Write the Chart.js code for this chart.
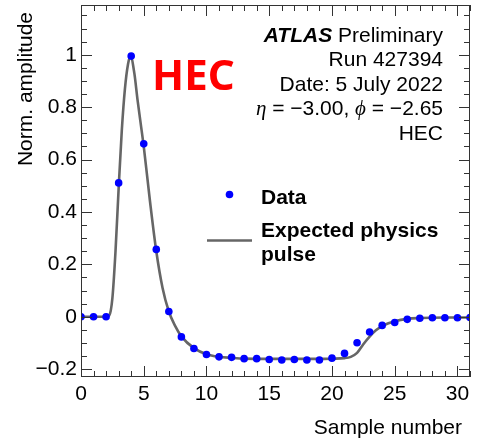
<!DOCTYPE html>
<html lang="en">
<head>
    <meta charset="UTF-8">
    <title>HEC pulse</title>
    <script src="https://cdn.jsdelivr.net/npm/chart.js@4.4.0/dist/chart.umd.min.js"></script>
    <style>
        html, body { margin: 0; padding: 0; background: #fff; }
        #wrap { width: 481px; height: 443px; }
    </style>
</head>
<body>
    <div id="wrap"><canvas id="myChart" width="481" height="443"></canvas></div>

    <script>
        // samples
        const sampleX = [0,1,2,3,4,5,6,7,8,9,10,11,12,13,14,15,16,17,18,19,20,21,22,23,24,25,26,27,28,29,30,31]
        const sampleY = [0,0,0,0.511,0.995,0.66,0.257,0.02,-0.077,-0.121,-0.144,-0.153,-0.155,-0.160,-0.160,-0.163,
                         -0.165,-0.163,-0.165,-0.165,-0.158,-0.140,-0.099,-0.058,-0.033,-0.022,-0.010,-0.006,-0.004,-0.004,-0.004,-0.003]

        // expected physics pulse (gray curve)
        const pulseX = [0,1,2,2.25,2.5,2.75,3,3.25,3.5,3.75,3.95,4.25,4.5,4.75,5,5.5,6,6.5,7,7.5,8,9,10,11,12,13,15,17,19,20,21,21.5,22,22.5,23,23.5,24,24.5,25,26,27,29,31]
        const pulseY = [0,0,0,0.005,0.07,0.25,0.49,0.71,0.87,0.965,0.995,0.93,0.83,0.74,0.65,0.44,0.25,0.11,0.02,-0.035,-0.075,-0.12,-0.143,-0.153,-0.157,-0.160,-0.161,-0.161,-0.161,-0.160,-0.158,-0.153,-0.138,-0.105,-0.076,-0.052,-0.036,-0.025,-0.017,-0.008,-0.005,-0.003,-0.003]

        const xTicks = [0,5,10,15,20,25,30]
        const yTicks = [-0.2,0,0.2,0.4,0.6,0.8,1]
        const yTickLabels = ['\u22120.2','0','0.2','0.4','0.6','0.8','1']

        const infoLines = ['Run 427394', 'Date: 5 July 2022', null, 'HEC']

        const FONT = '"Liberation Sans", Arial, Helvetica, sans-serif'
        const SZ = 21

        // draw pieces right-aligned at xr, each piece [text, font]
        function drawPieces(c, pieces, xr, y) {
            let w = 0
            pieces.forEach(p => { c.font = p[1]; w += c.measureText(p[0]).width })
            let x = xr - w
            c.textAlign = 'left'
            pieces.forEach(p => { c.font = p[1]; c.fillText(p[0], x, y); x += c.measureText(p[0]).width })
        }

        // frame, inward ticks, titles, labels and legend
        const decor = {
            id: 'decor',
            afterDraw(chart) {
                const c = chart.ctx
                const a = chart.chartArea
                const xs = chart.scales.x, ys = chart.scales.y
                c.save()
                c.strokeStyle = '#333'
                c.lineWidth = 1
                c.strokeRect(a.left + 0.5, a.top + 0.5, a.right - a.left - 1, a.bottom - a.top - 1)
                c.beginPath()
                for (let i = 0; i <= 31; i++) {
                    const px = Math.round(xs.getPixelForValue(i)) + 0.5
                    const len = i % 5 === 0 ? 11 : 6
                    c.moveTo(px, a.bottom); c.lineTo(px, a.bottom - len)
                    c.moveTo(px, a.top); c.lineTo(px, a.top + len)
                }
                for (let k = -4; k <= 23; k++) {
                    const py = Math.round(ys.getPixelForValue(k * 0.05)) + 0.5
                    const len = k % 4 === 0 ? 11 : 6
                    c.moveTo(a.left, py); c.lineTo(a.left + len, py)
                    c.moveTo(a.right, py); c.lineTo(a.right - len, py)
                }
                c.stroke()

                const norm = SZ + 'px ' + FONT
                c.fillStyle = '#000'
                c.font = norm
                c.textAlign = 'right'
                c.textBaseline = 'alphabetic'
                c.fillText('Sample number', 462, 434)

                c.save()
                c.translate(32, 12)
                c.rotate(-Math.PI / 2)
                c.textAlign = 'right'
                c.fillText('Norm. amplitude', 0, 0)
                c.restore()

                // ATLAS label
                drawPieces(c, [['ATLAS', 'italic bold ' + SZ + 'px ' + FONT], [' Preliminary', norm]], 443, 41.5)
                const it = 'italic ' + SZ + 'px "Liberation Serif", "DejaVu Serif", serif'
                infoLines.forEach((t, i) => {
                    const y = 66 + i * 24.6
                    if (t === null) {
                        drawPieces(c, [['\u03b7', it], [' = \u22123.00, ', norm], ['\u03d5', it], [' = \u22122.65', norm]], 443, y)
                    } else {
                        drawPieces(c, [[t, norm]], 443, y)
                    }
                })

                // red HEC
                c.textAlign = 'left'
                c.fillStyle = '#ff0000'
                c.font = 'bold 42px "Noto Sans", "Open Sans", sans-serif'
                c.fillText('HEC', 152, 90)

                // legend
                c.fillStyle = '#0000ff'
                c.beginPath()
                c.arc(229.5, 194.5, 3.8, 0, Math.PI * 2)
                c.fill()
                c.strokeStyle = '#666'
                c.lineWidth = 2.6
                c.beginPath()
                c.moveTo(207, 240.5); c.lineTo(252, 240.5)
                c.stroke()
                c.fillStyle = '#000'
                c.font = 'bold ' + SZ + 'px ' + FONT
                c.fillText('Data', 261, 204)
                c.fillText('Expected physics', 261, 237)
                c.fillText('pulse', 261, 261)
                c.restore()
            }
        }

        const ctx = document.getElementById('myChart').getContext('2d')
        const myChart = new Chart(ctx, {
            type: 'scatter',
            data: {
                datasets: [{
                    label: 'Data',
                    data: sampleX.map((x, i) => ({ x: x, y: sampleY[i] })),
                    backgroundColor: '#0000ff',
                    borderColor: '#0000ff',
                    pointRadius: 3.8,
                    borderWidth: 0,
                    order: 0
                }, {
                    label: 'Expected physics pulse',
                    data: pulseX.map((x, i) => ({ x: x, y: pulseY[i] })),
                    showLine: true,
                    borderColor: '#666',
                    borderWidth: 2.6,
                    pointRadius: 0,
                    cubicInterpolationMode: 'monotone',
                    order: 1
                }]
            },
            options: {
                responsive: false,
                animation: false,
                layout: { padding: { left: 0, top: 5, right: 11, bottom: 0 } },
                plugins: { legend: { display: false }, tooltip: { enabled: false } },
                scales: {
                    x: {
                        type: 'linear',
                        min: 0, max: 31,
                        grid: { display: false, drawTicks: false },
                        border: { display: false },
                        afterBuildTicks: s => { s.ticks = xTicks.map(v => ({ value: v })) },
                        afterFit: s => { s.height = 66; s.paddingLeft = 0; s.paddingRight = 0 },
                        ticks: { color: '#000', padding: 5, maxRotation: 0, font: { family: FONT, size: SZ } }
                    },
                    y: {
                        min: -0.23, max: 1.19,
                        grid: { display: false, drawTicks: false },
                        border: { display: false },
                        afterBuildTicks: s => { s.ticks = yTicks.map(v => ({ value: v })) },
                        afterFit: s => { s.width = 81; s.paddingTop = 0; s.paddingBottom = 0 },
                        ticks: {
                            color: '#000', padding: 4, font: { family: FONT, size: SZ },
                            callback: (v) => yTickLabels[yTicks.findIndex(t => Math.abs(t - v) < 1e-6)]
                        }
                    }
                }
            },
            plugins: [decor]
        })
    </script>
</body>
</html>
